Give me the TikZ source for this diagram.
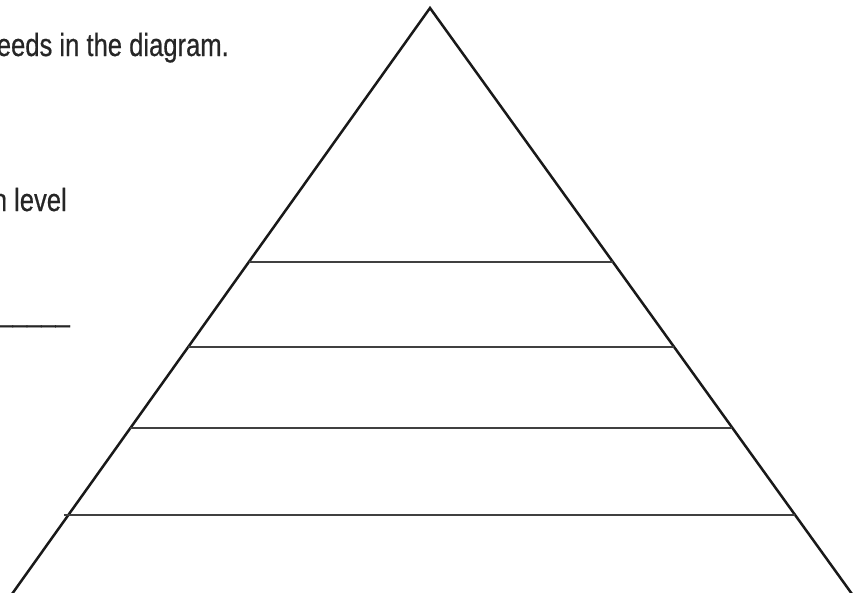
\documentclass[tikz,border=0pt]{standalone}
\usepackage{fontspec}
\setmainfont{Liberation Sans}[FakeStretch=0.8,FakeBold=0.6]
\usetikzlibrary{calc}
\begin{document}
\begin{tikzpicture}[x=1pt,y=-1pt,
  edge/.style={line width=2.5pt,black!90,line join=miter},
  level/.style={line width=1.4pt,black!75},
  txt/.style={inner sep=0pt,anchor=base east,font=\fontsize{32}{38}\selectfont,text=black!85}]
\useasboundingbox (0,0) rectangle (862,592);
\coordinate (apex) at (430,8);
\coordinate (bl) at (12,594);
\coordinate (br) at (852,594);
\draw[edge] (bl) -- (apex) -- (br);
\foreach \y/\n in {262/a,347/b,428/c,515/d}{
  \pgfmathsetmacro{\t}{(\y-8)/586}
  \coordinate (l\n) at ($(apex)!\t!(bl)$);
  \coordinate (r\n) at ($(apex)!\t!(br)$);
}
\draw[level] (la) -- (ra);
\draw[level] (lb) -- (rb);
\draw[level] (lc) -- (rc);
\draw[level] ($(ld)+(-4,0)$) -- (rd);
\node[txt] (t1) at (229,56) {eeds in the diagram.};
\node[txt] (t2) at (67,211) {n level};
\node[txt] (t3) at (70,321) {\_\_\_\_\_};
\end{tikzpicture}
\end{document}
